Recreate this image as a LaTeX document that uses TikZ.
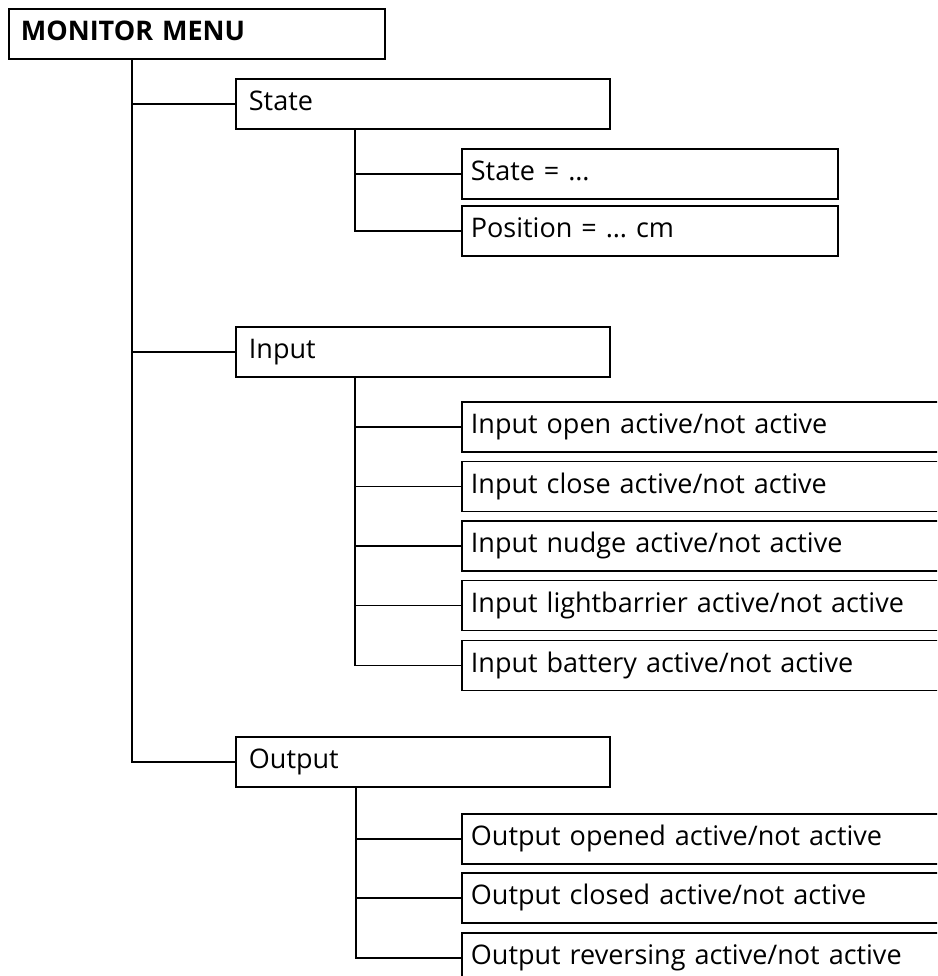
\documentclass[tikz,border=0pt]{standalone}
\usepackage{fontspec}
\setmainfont{Open Sans}
\tikzset{
    menubox/.style={draw, line width=1.8pt, anchor=north west, minimum height=50pt,
                    inner ysep=0pt, align=left, text height=19pt, text depth=5pt,
                    font=\fontsize{27}{32}\selectfont},
    topbox/.style={menubox, inner xsep=12pt, text width=352pt, font=\fontsize{27}{32}\selectfont\bfseries},
    groupbox/.style={menubox, inner xsep=13pt, text width=348pt},
    itembox/.style={menubox, inner xsep=9pt, text width=358pt},
    widebox/.style={menubox, inner xsep=9pt, text width=560pt},
    branch/.style={line width=1.7pt},
}
\begin{document}
\begin{tikzpicture}[x=1pt,y=-1pt]
    \useasboundingbox (0,0) rectangle (937,976);
    \clip (0,0) rectangle (937,976);

    % main menu and groups
    \node[topbox] (menu) at (8,8) {MONITOR MENU};
    \node[groupbox] (state) at (235,78) {State};
    \node[groupbox] (input) at (235,326) {Input};
    \node[groupbox] (output) at (235,736) {Output};

    % state entries
    \node[itembox] (stateval) at (461,148) {State = \dots};
    \node[itembox] (position) at (461,205) {Position = \dots\ cm};

    % input entries
    \node[widebox] (inopen) at (461,401) {Input open active/not active};
    \node[widebox] (inclose) at (461,460.5) {Input close active/not active};
    \node[widebox] (innudge) at (461,520) {Input nudge active/not active};
    \node[widebox] (inlight) at (461,579.5) {Input lightbarrier active/not active};
    \node[widebox] (inbatt) at (461,639.5) {Input battery active/not active};

    % output entries
    \node[widebox] (outopen) at (461,813) {Output opened active/not active};
    \node[widebox] (outclose) at (461,872) {Output closed active/not active};
    \node[widebox] (outrev) at (461,932) {Output reversing active/not active};

    % branches
    \foreach \g in {state,input,output}
        \draw[branch] ([xshift=124pt]menu.south west) |- (\g.west);
    \foreach \e in {stateval,position}
        \draw[branch] ([xshift=120pt]state.south west) |- (\e.west);
    \foreach \e in {inopen,inclose,innudge,inlight,inbatt}
        \draw[branch] ([xshift=120pt]input.south west) |- (\e.west);
    \foreach \e in {outopen,outclose,outrev}
        \draw[branch] ([xshift=121pt]output.south west) |- (\e.west);
\end{tikzpicture}
\end{document}
